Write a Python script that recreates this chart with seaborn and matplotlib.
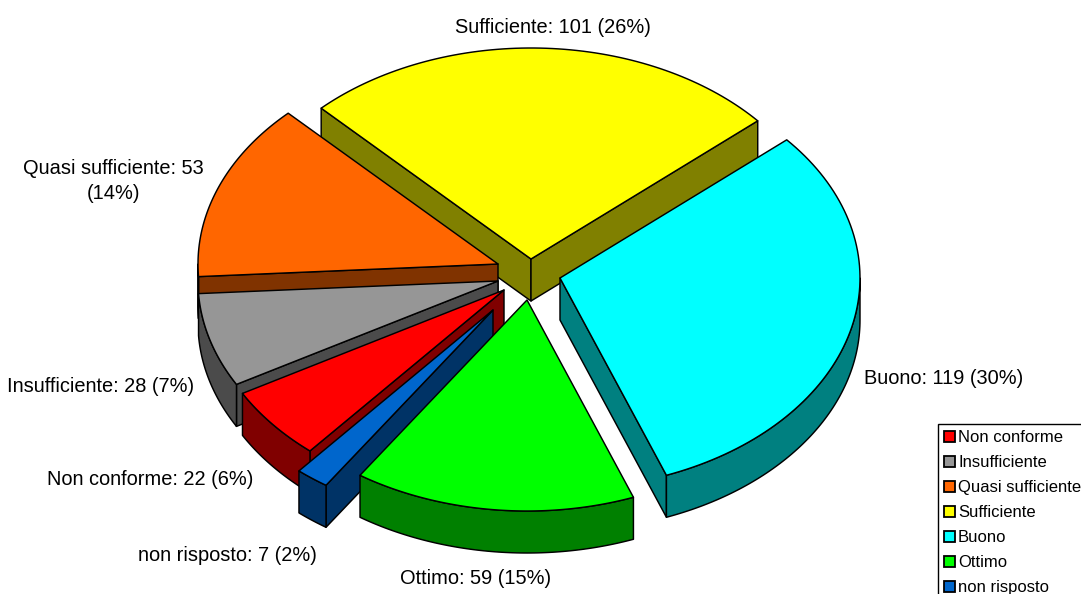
import numpy as np
import matplotlib
matplotlib.use("Agg")
import matplotlib.pyplot as plt
from matplotlib.patches import Patch, Polygon
import seaborn as sns

# --- Data ---
categories = ["Non conforme", "Insufficiente", "Quasi sufficiente", "Sufficiente",
              "Buono", "Ottimo", "non risposto"]
counts = [22, 28, 53, 101, 119, 59, 7]
percents = [6, 7, 14, 26, 30, 15, 2]

# --- Colours ---
top_colors = ["#FF0000", "#969696", "#FF6600", "#FFFF00", "#00FFFF", "#00FF00", "#0066CC"]
side_colors = ["#800000", "#4B4B4B", "#803300", "#808000", "#008080", "#008000", "#003366"]

# --- Layout of the fake 3D pie (pixels) ---
START_ANGLE = 229.7      # first slice starts here, then goes clockwise
RX, RY = 300, 211
DEPTH = 42
apex_x = [504, 498, 498, 531, 560, 527, 493]
apex_y = [290, 281, 264, 259, 278, 300, 310]
draw_order = [3, 4, 2, 1, 0, 6, 5]   # back to front
label_x = [150, 101, 113, 553, 943.5, 476, 227]
label_y = [479.5, 386.5, 181, 27.5, 378.5, 578.5, 555.5]


def rim(cx, cy, t_from, t_to, n=80):
    t = np.radians(np.linspace(t_from, t_to, n))
    return cx + RX * np.cos(t), cy - RY * np.sin(t)


def draw_face(ax, xs, ys, color):
    ax.add_patch(Polygon(np.column_stack([xs, ys]), closed=True, facecolor=color,
                         edgecolor="black", linewidth=1.05, joinstyle="round"))


def draw_slice(ax, cx, cy, t_start, t_end, top, side):
    """t_start > t_end, angles in degrees, counter clockwise from east."""
    # the two cut faces, only if they look downwards
    for t, sign in ((t_start, 1), (t_end, -1)):
        rad = np.radians(t)
        rx_, ry_ = cx + RX * np.cos(rad), cy - RY * np.sin(rad)
        # outward normal of the cut, on the screen (y goes down)
        normal_y = -sign * (rx_ - cx)
        if normal_y > 0:
            draw_face(ax, [cx, rx_, rx_, cx], [cy, ry_, ry_ + DEPTH, cy + DEPTH], side)

    # outer wall, only the front part of the rim
    for low, high in ((180, 360), (540, 720), (-180, 0)):
        a, b = max(t_end, low), min(t_start, high)
        if a < b:
            xs, ys = rim(cx, cy, a, b)
            draw_face(ax, np.r_[xs, xs[::-1]], np.r_[ys, ys[::-1] + DEPTH], side)

    # top face
    xs, ys = rim(cx, cy, t_start, t_end)
    draw_face(ax, np.r_[cx, xs], np.r_[cy, ys], top)


def main():
    sns.set_theme(style="white")
    plt.rcParams["font.family"] = ["Liberation Sans", "DejaVu Sans"]

    fig = plt.figure(figsize=(10.81, 5.94), dpi=100)
    ax = fig.add_axes([0, 0, 1, 1])
    ax.set_xlim(0, 1081)
    ax.set_ylim(594, 0)
    ax.axis("off")

    spans = np.array(counts) / sum(counts) * 360
    ends = START_ANGLE - np.cumsum(spans)
    starts = ends + spans

    for i in draw_order:
        draw_slice(ax, apex_x[i], apex_y[i], starts[i], ends[i], top_colors[i], side_colors[i])

    for i, name in enumerate(categories):
        text = f"{name}: {counts[i]} ({percents[i]}%)"
        if name == "Quasi sufficiente":
            text = f"{name}: {counts[i]}\n({percents[i]}%)"
        ax.text(label_x[i], label_y[i], text, ha="center", va="center",
                fontsize=14.4, color="black", linespacing=1.4)

    handles = [Patch(facecolor=c, edgecolor="black", linewidth=1.3) for c in top_colors]
    leg = ax.legend(handles, categories, loc="upper left", bbox_to_anchor=(938, 424),
                    bbox_transform=ax.transData, fontsize=12, frameon=True, fancybox=False,
                    framealpha=1, edgecolor="black", handlelength=0.62, handleheight=0.62,
                    handletextpad=0.2, labelspacing=0.6, borderpad=0.38, borderaxespad=0,
                    labelcolor="black")
    leg.get_frame().set_linewidth(1.0)

    fig.savefig("out.png", dpi=100)


if __name__ == "__main__":
    main()
